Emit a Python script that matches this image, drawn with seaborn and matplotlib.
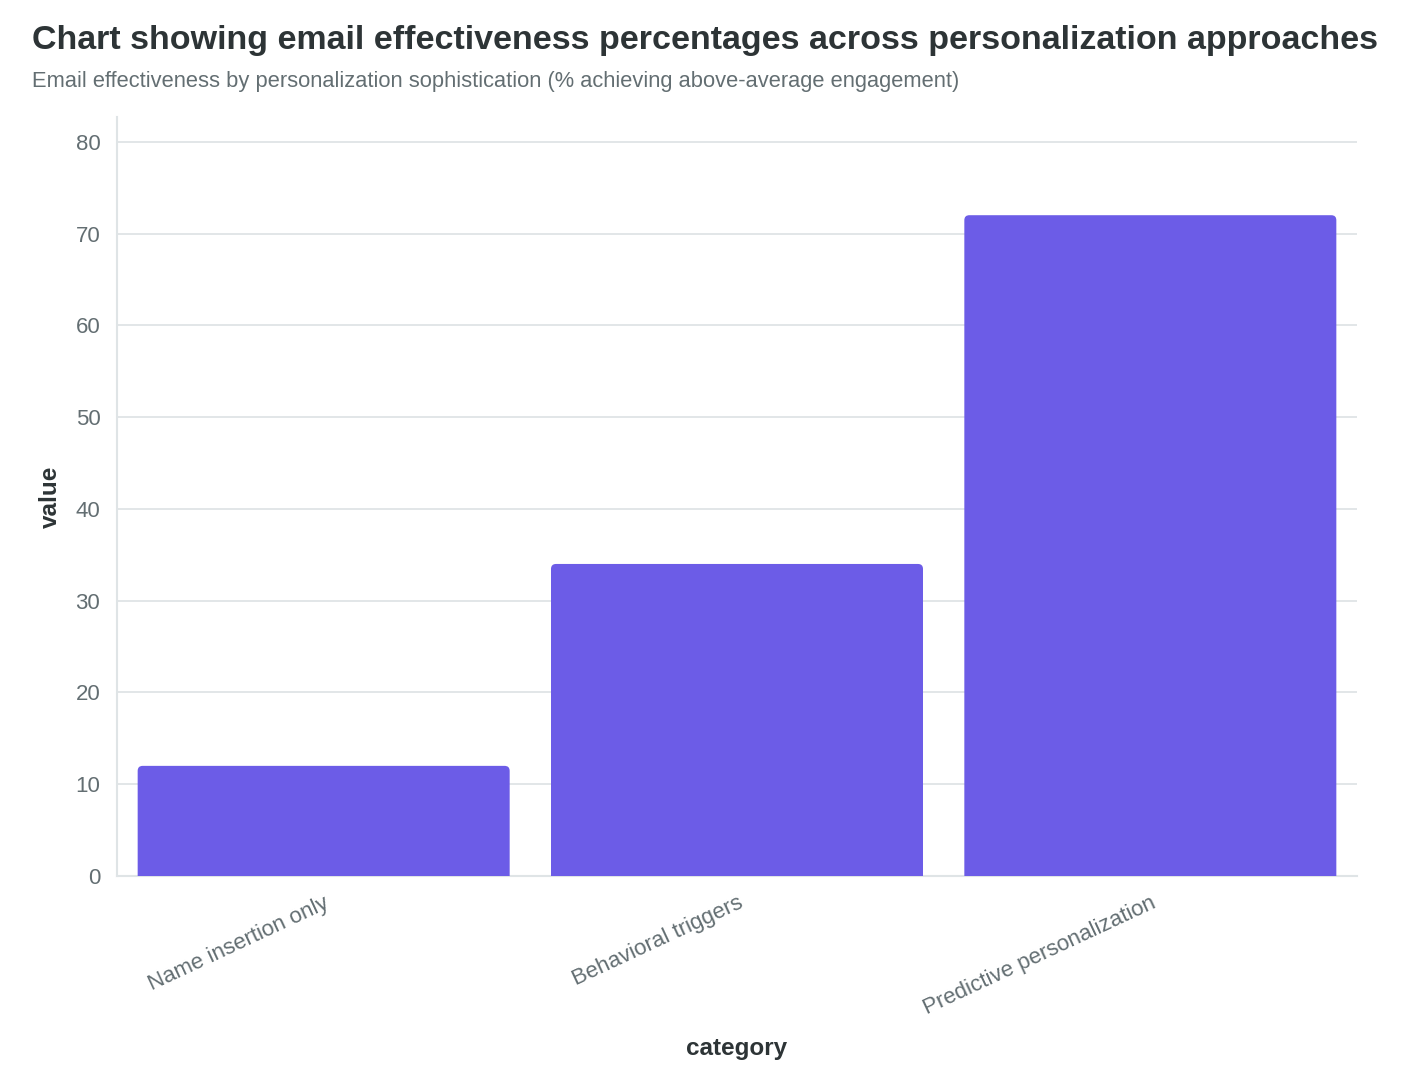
import matplotlib
matplotlib.use("Agg")
import matplotlib.pyplot as plt
import seaborn as sns
import pandas as pd
from matplotlib.patches import FancyBboxPatch

# data
categories = ["Name insertion only", "Behavioral triggers", "Predictive personalization"]
values = [12, 34, 72]
y_ticks = [0, 10, 20, 30, 40, 50, 60, 70, 80]

df = pd.DataFrame({"category": categories, "value": values})

sns.set_theme(style="white")
plt.rcParams['font.family'] = ['Liberation Sans', 'DejaVu Sans']

bar_color = "#6c5ce7"
grid_color = "#dfe4e6"
text_dark = "#2d3436"
text_grey = "#636e72"

fig = plt.figure(figsize=(14.28, 10.88), dpi=100)
ax = fig.add_axes([117 / 1428, 1 - 876 / 1088, (1357 - 117) / 1428, (876 - 117) / 1088])

sns.barplot(data=df, x="category", y="value", color=bar_color, width=0.9,
            saturation=1, ax=ax, zorder=3)

ax.set_xlim(-0.5, 2.5)
ax.set_ylim(0, 82.7)

# swap plain bars for bars with rounded top corners
px_x = (1357 - 117) / 3.0
px_y = (876 - 117) / 82.7
for p in list(ax.patches):
    x0, w, h = p.get_x(), p.get_width(), p.get_height()
    p.remove()
    r = 5 / px_x
    box = FancyBboxPatch((x0, -3), w, h + 3,
                         boxstyle=f"round,pad=0,rounding_size={r}",
                         mutation_aspect=px_x / px_y,
                         facecolor=bar_color, edgecolor="none", zorder=3,
                         clip_on=True)
    ax.add_patch(box)

ax.set_yticks(y_ticks)
ax.yaxis.grid(True, color=grid_color, linewidth=1.3, zorder=0)
ax.xaxis.grid(False)
for side in ["top", "right"]:
    ax.spines[side].set_visible(False)
for side in ["left", "bottom"]:
    ax.spines[side].set_color(grid_color)
    ax.spines[side].set_linewidth(1.5)

ax.tick_params(axis="both", which="both", length=8, width=1.3, color=grid_color,
               labelcolor=text_grey, labelsize=16, pad=4)
plt.setp(ax.get_xticklabels(), rotation=25, ha="right", rotation_mode="anchor")

ax.set_xlabel("category", fontsize=17.5, fontweight="bold", color=text_dark, labelpad=13)
ax.set_ylabel("value", fontsize=17.5, fontweight="bold", color=text_dark, labelpad=10)

fig.text(32 / 1428, 1 - 40 / 1088,
         "Chart showing email effectiveness percentages across personalization approaches",
         fontsize=24.5, fontweight="bold", color=text_dark, va="center", ha="left")
fig.text(32 / 1428, 1 - 81 / 1088,
         "Email effectiveness by personalization sophistication (% achieving above-average engagement)",
         fontsize=15.75, color=text_grey, va="center", ha="left")

fig.savefig("out.png", dpi=100, facecolor="white")
